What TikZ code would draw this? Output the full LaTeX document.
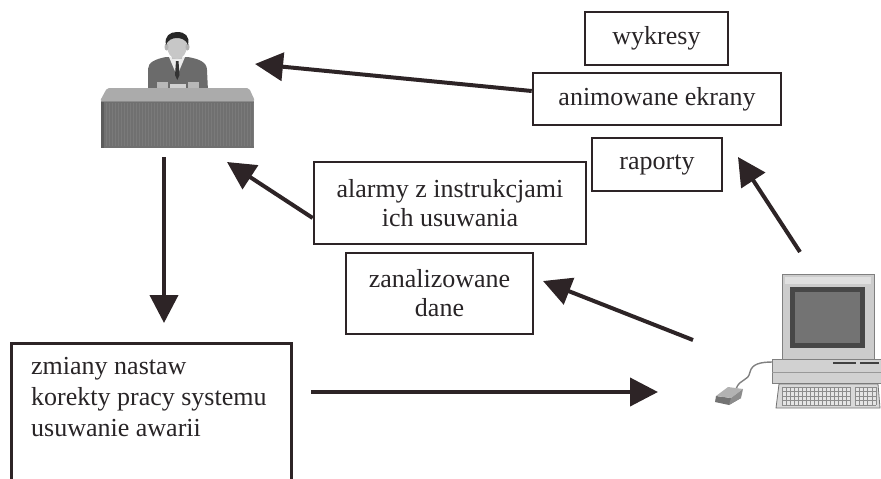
\documentclass[tikz,border=0pt]{standalone}
\usepackage{fontspec}
\setmainfont{Liberation Serif}
\usetikzlibrary{arrows.meta}
\definecolor{ink}{RGB}{45,36,38}
\definecolor{txt}{RGB}{40,36,38}
\begin{document}
\begin{tikzpicture}[x=1pt,y=-1pt,
  box/.style={draw=ink, line width=2.6pt, fill=white, inner sep=0pt,
    font=\fontsize{26}{29}\selectfont, text=txt, align=center},
  arr/.style={draw=ink, line width=4pt, -{Triangle[length=28pt,width=28pt]}},
]
\useasboundingbox (0,0) rectangle (881,479);
\clip (0,0) rectangle (881,479);

% ---------- operator at the desk ----------
% suit
\fill[black!58] (148,91) -- (148,69) .. controls (148,62) and (156,59) .. (166,57)
  -- (188,57) .. controls (199,59) and (207,62) .. (207,70) -- (208,91) -- cycle;
% shirt and tie
\fill[white!92!black] (169,57) -- (177,76) -- (185,57) -- cycle;
\fill[black!80] (176,61) -- (178.5,61) -- (179.5,75) -- (177.3,80) -- (175,75) -- cycle;
% neck and head
\fill[black!25] (172,52) rectangle (182,59);
\fill[black!22] (177,46) ellipse (10 and 13);
\fill[black!30] (166.5,47) ellipse (2 and 3.5);
\fill[black!30] (187.5,47) ellipse (2 and 3.5);
% hair
\fill[black!85] (166,45) .. controls (164,36) and (170,32) .. (177,32)
  .. controls (185,32) and (190,36) .. (188,45) .. controls (186,39) and (180,38) .. (177,38)
  .. controls (172,38) and (168,40) .. (166,45) -- cycle;
% hands and paper
\fill[black!28] (157,82) rectangle (168,89);
\fill[black!28] (188,82) rectangle (199,89);
\fill[black!18] (170,84) rectangle (186,90);
% desk top
\fill[black!33, rounded corners=2pt] (107,88) -- (249,88) -- (255,101) -- (100,101) -- cycle;
% desk front
\fill[black!56] (101,101) rectangle (254,148);
\fill[black!64] (101,101) rectangle (104,148);
\foreach \k in {0,...,49} {
  \draw[black!52, line width=0.5pt] (106+\k*3,103) -- (106+\k*3,146);
}
\draw[black!45, line width=1pt] (101,101) -- (254,101);

% ---------- computer ----------
% mouse cord
\draw[black!50, line width=1.4pt] (736,389) .. controls (740,378) and (748,382) .. (750,372)
  .. controls (752,364) and (760,362) .. (773,362);
% mouse
\fill[black!55] (716,396) -- (731,398) -- (741,398) -- (729,405) -- (715,402) -- cycle;
\fill[black!30] (716,396) -- (728,387) -- (743,389) -- (731,398) -- cycle;
\fill[black!45] (731,398) -- (743,389) -- (741,398) -- (729,405) -- cycle;
% monitor
\filldraw[fill=black!20, draw=black!50, line width=1pt] (782,274) rectangle (874,360);
\fill[black!12] (785,277) rectangle (871,284);
\fill[black!72] (790,287) rectangle (865,348);
\fill[black!55] (795,292) rectangle (860,343);
% system unit
\filldraw[fill=black!18, draw=black!50, line width=1pt] (772,359) rectangle (881,383);
\draw[black!40, line width=0.8pt] (772,372) -- (881,372);
\draw[black!75, line width=1.6pt] (833,363) -- (856,363);
\draw[black!75, line width=1.6pt] (860,363) -- (879,363);
% keyboard
\filldraw[fill=black!15, draw=black!55, line width=0.8pt] (779,384) -- (878,384) -- (880,408) -- (776,408) -- cycle;
\fill[black!10] (782,387) rectangle (851,405);
\fill[black!10] (855,387) rectangle (876,405);
\foreach \r in {0,...,4} {
  \draw[black!45, line width=0.5pt] (782,387+\r*4.5) -- (851,387+\r*4.5);
  \draw[black!45, line width=0.5pt] (855,387+\r*4.5) -- (876,387+\r*4.5);
}
\foreach \c in {0,...,17} {
  \draw[black!45, line width=0.5pt] (782+\c*4,387) -- (782+\c*4,405);
}
\foreach \c in {0,...,5} {
  \draw[black!45, line width=0.5pt] (855+\c*4.2,387) -- (855+\c*4.2,405);
}

% ---------- text boxes ----------
\node[box, minimum width=143pt, minimum height=53pt] (wyk) at (656.5,38.5) {wykresy};
\node[box, minimum width=248pt, minimum height=52pt] (anim) at (657,99) {animowane ekrany};
\node[box, minimum width=130pt, minimum height=53pt] (rap) at (657,164.5) {raporty};
\node[box, minimum width=272pt, minimum height=82pt] (alarm) at (450,203) {alarmy z instrukcjami\\ich usuwania};
\node[box, minimum width=187pt, minimum height=81pt] (zan) at (439.5,293.5) {zanalizowane\\dane};
\node[box, minimum width=280pt, minimum height=190pt, anchor=north west] (zm) at (10,342) {};
\node[anchor=north west, inner sep=0pt, align=left, text=txt,
  font=\fontsize{26}{31}\selectfont] (zmt) at (31,357)
  {zmiany nastaw\\korekty pracy systemu\\usuwanie awarii};

% ---------- connector ends ----------
\coordinate (opA) at (255,64);
\coordinate (opB) at (227,162);
\coordinate (opC) at (164,157);
\coordinate (zmTop) at (164,323);
\coordinate (hS) at (311,392);
\coordinate (hE) at (658,392);
\coordinate (pcA) at (693,340);
\coordinate (pcB) at (800,252);
\coordinate (rapIn) at (738,157);
\coordinate (zanIn) at (543,281);
\coordinate (animOut) at (anim.west |- 0,91);
\coordinate (alarmOut) at (alarm.west |- 0,218);

% ---------- connectors ----------
\draw[arr] (animOut) -- (opA);
\draw[arr] (alarmOut) -- (opB);
\draw[arr] (opC) -- (zmTop);
\draw[arr] (hS) -- (hE);
\draw[arr] (pcA) -- (zanIn);
\draw[arr] (pcB) -- (rapIn);
\end{tikzpicture}
\end{document}
